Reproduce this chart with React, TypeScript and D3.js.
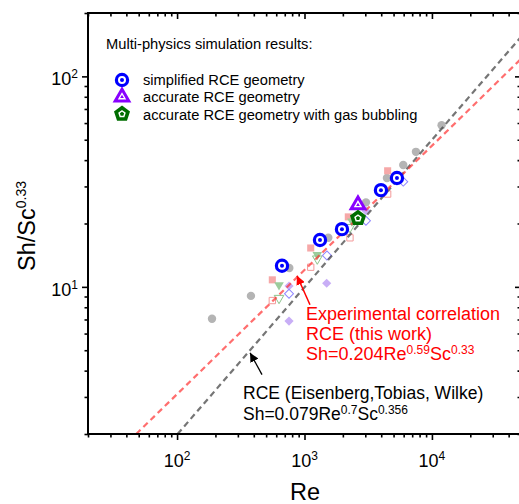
import React, { useEffect, useRef } from "react";
import * as d3 from "d3";

const W = 519;
const H = 504;
const FONT = "Arial, 'Liberation Sans', sans-serif";

// axes
const reDomain = [20, 50000];
const shDomain = [2, 200];
const reMajor = [100, 1000, 10000];
const reExp = ["2", "3", "4"];
const shMajor = [10, 100];
const shExp = ["1", "2"];

// multi-physics simulation results (Re, Sh/Sc^0.33)
const simplified = [[666, 12.6], [1323, 16.7], [1968, 18.8], [3981, 28.8], [5315, 32.9]];
const accurate = [[2628, 24.8]];
const bubbling = [[2628, 21.2]];

// faded experimental points behind
const grayCircles = [[188, 7.05], [380, 9.06], [760, 12.3], [1537, 17.1], [3036, 25.2], [4436, 32.9], [5957, 37.9], [7490, 43.8], [11910, 58.6]];
const pinkSquares = [[559, 10.8], [1119, 15.3], [2206, 21.5], [4493, 35.6]];
const pinkOpenSquares = [[559, 8.61], [1119, 12.4], [2274, 17.1], [4493, 27.6]];
const greenTriangles = [[631, 10.2], [1260, 14.2], [2358, 20.5]];
const greenOpenTriangles = [[631, 8.84], [1260, 13.6], [2274, 19.2]];
const purpleDiamonds = [[756, 6.88], [756, 10.1], [1493, 10.4], [3036, 23.0]];
const purpleOpenDiamonds = [[756, 9.27], [1500, 14.1], [3036, 20.6], [5957, 31.6]];

// correlation lines (end points)
const thisWorkLine = [[47.8, 2], [50000, 121]];
const eisenbergLine = [[101, 2], [50000, 154]];

// annotation arrows (tail -> tip)
const redArrow = [[1104, 8.22], [873, 11.3]];
const blackArrow = [[464, 3.83], [374, 4.86]];

const x = d3.scaleLog().domain(reDomain).range([88, 521]);
const y = d3.scaleLog().domain(shDomain).range([434, 13]);

const pentagon = (r: number) =>
  "M" +
  d3
    .range(5)
    .map(i => {
      const a = -Math.PI / 2 + (i * 2 * Math.PI) / 5;
      return [r * Math.cos(a), r * Math.sin(a)].join(",");
    })
    .join("L") +
  "Z";

const sym = (type: any, size: number) => d3.symbol().type(type).size(size)() as string;

const SimplifiedMark = ({ cx, cy }: any) => (
  <g transform={`translate(${cx},${cy})`}>
    <circle r={5.6} fill="#fff" stroke="#0000ff" strokeWidth={3.2} />
    <circle r={2} fill="#0000ff" />
  </g>
);
const AccurateMark = ({ cx, cy }: any) => (
  <g transform={`translate(${cx},${cy + 1})`}>
    <path d={sym(d3.symbolTriangle, 80)} fill="#fff" stroke="#8800ff" strokeWidth={3} strokeLinejoin="miter" />
    <path d={sym(d3.symbolTriangle, 6)} fill="#8800ff" />
  </g>
);
const BubblingMark = ({ cx, cy }: any) => (
  <g transform={`translate(${cx},${cy})`}>
    <path d={pentagon(6.2)} fill="#fff" stroke="#006e00" strokeWidth={3.6} />
    <path d={pentagon(2.2)} fill="#006e00" />
  </g>
);

export default function App() {
  const axesRef = useRef<SVGGElement>(null);

  useEffect(() => {
    const g = d3.select(axesRef.current);
    g.selectAll("*").remove();
    const reMinor = x.ticks().filter(v => !reMajor.includes(v));
    const shMinor = y.ticks().filter(v => !shMajor.includes(v));

    const put = (axis: any, tr: string) => {
      const a = g.append("g").attr("transform", tr).call(axis);
      a.select(".domain").remove();
      a.selectAll("line").attr("stroke", "#000").attr("stroke-width", 1.6);
    };
    const blank = () => "";
    // bottom / left outward, top / right inward
    put(d3.axisBottom(x).tickValues(reMajor).tickSize(6).tickFormat(blank), "translate(0,434)");
    put(d3.axisBottom(x).tickValues(reMinor).tickSize(3.5).tickFormat(blank), "translate(0,434)");
    put(d3.axisTop(x).tickValues(reMajor).tickSize(-6).tickFormat(blank), "translate(0,13)");
    put(d3.axisTop(x).tickValues(reMinor).tickSize(-3.5).tickFormat(blank), "translate(0,13)");
    put(d3.axisLeft(y).tickValues(shMajor).tickSize(6).tickFormat(blank), "translate(88,0)");
    put(d3.axisLeft(y).tickValues(shMinor).tickSize(3.5).tickFormat(blank), "translate(88,0)");
    put(d3.axisRight(y).tickValues(shMajor).tickSize(-6).tickFormat(blank), "translate(521,0)");
    put(d3.axisRight(y).tickValues(shMinor).tickSize(-3.5).tickFormat(blank), "translate(521,0)");
  }, []);

  const line = d3
    .line<number[]>()
    .x(d => x(d[0]))
    .y(d => y(d[1]));

  return (
    <div style={{ position: "absolute", left: 0, top: 0 }}>
      <svg width={W} height={H} style={{ display: "block", fontFamily: FONT }}>
        <defs>
          <clipPath id="plot">
            <rect x={88} y={13} width={433} height={421} />
          </clipPath>
          <marker id="headRed" viewBox="0 0 10 10" refX={10} refY={5} markerWidth={9} markerHeight={9} markerUnits="userSpaceOnUse" orient="auto">
            <path d="M0,0L10,5L0,10Z" fill="#ff0000" />
          </marker>
          <marker id="headBlack" viewBox="0 0 10 10" refX={10} refY={5} markerWidth={9} markerHeight={9} markerUnits="userSpaceOnUse" orient="auto">
            <path d="M0,0L10,5L0,10Z" fill="#000" />
          </marker>
        </defs>

        <g clipPath="url(#plot)">
          {grayCircles.map((d, i) => (
            <circle key={"gc" + i} cx={x(d[0])} cy={y(d[1])} r={4.2} fill="#b4b4b4" />
          ))}
          {pinkSquares.map((d, i) => (
            <path key={"ps" + i} transform={`translate(${x(d[0])},${y(d[1])})`} d={sym(d3.symbolSquare, 50)} fill="#f6a8a8" />
          ))}
          {pinkOpenSquares.map((d, i) => (
            <path key={"pos" + i} transform={`translate(${x(d[0])},${y(d[1])})`} d={sym(d3.symbolSquare, 40)} fill="none" stroke="#f39a9a" strokeWidth={1} />
          ))}
          {greenTriangles.map((d, i) => (
            <path key={"gt" + i} transform={`translate(${x(d[0])},${y(d[1])}) rotate(180)`} d={sym(d3.symbolTriangle, 40)} fill="#9ccc9c" />
          ))}
          {greenOpenTriangles.map((d, i) => (
            <path key={"got" + i} transform={`translate(${x(d[0])},${y(d[1])}) rotate(180)`} d={sym(d3.symbolTriangle, 40)} fill="none" stroke="#8cc48c" strokeWidth={1} />
          ))}
          {purpleDiamonds.map((d, i) => (
            <path key={"pd" + i} transform={`translate(${x(d[0])},${y(d[1])}) rotate(45)`} d={sym(d3.symbolSquare, 42)} fill="#c8aef6" />
          ))}
          {purpleOpenDiamonds.map((d, i) => (
            <path key={"pod" + i} transform={`translate(${x(d[0])},${y(d[1])}) rotate(45)`} d={sym(d3.symbolSquare, 40)} fill="none" stroke="#8f86ff" strokeWidth={1} />
          ))}

          <path d={line(eisenbergLine) as string} fill="none" stroke="#3a3a3a" strokeOpacity={0.7} strokeWidth={2.2} strokeDasharray="6,4" />
          <path d={line(thisWorkLine) as string} fill="none" stroke="#ff3030" strokeOpacity={0.7} strokeWidth={2.2} strokeDasharray="6,4" />

          {simplified.map((d, i) => (
            <SimplifiedMark key={"s" + i} cx={x(d[0])} cy={y(d[1])} />
          ))}
          {accurate.map((d, i) => (
            <AccurateMark key={"a" + i} cx={x(d[0])} cy={y(d[1])} />
          ))}
          {bubbling.map((d, i) => (
            <BubblingMark key={"b" + i} cx={x(d[0])} cy={y(d[1])} />
          ))}
        </g>

        <line x1={x(redArrow[0][0])} y1={y(redArrow[0][1])} x2={x(redArrow[1][0])} y2={y(redArrow[1][1])} stroke="#ff0000" strokeWidth={1.5} markerEnd="url(#headRed)" />
        <line x1={x(blackArrow[0][0])} y1={y(blackArrow[0][1])} x2={x(blackArrow[1][0])} y2={y(blackArrow[1][1])} stroke="#000" strokeWidth={1.3} markerEnd="url(#headBlack)" />

        <g ref={axesRef} />
        <rect x={88} y={13} width={433} height={421} fill="none" stroke="#000" strokeWidth={2} />

        {reMajor.map((v, i) => (
          <text key={"xl" + i} x={x(v)} y={467} textAnchor="middle" fontSize={18}>
            10<tspan dy={-7} fontSize={12}>{reExp[i]}</tspan>
          </text>
        ))}
        {shMajor.map((v, i) => (
          <text key={"yl" + i} x={78} y={y(v) + 9} textAnchor="end" fontSize={18}>
            10<tspan dy={-7} fontSize={12}>{shExp[i]}</tspan>
          </text>
        ))}

        <text x={305} y={500} textAnchor="middle" fontSize={23.5}>Re</text>
        <text transform="translate(35,226) rotate(-90)" textAnchor="middle" fontSize={23.5}>
          Sh/Sc<tspan dy={-9} fontSize={14}>0.33</tspan>
        </text>

        <text x={106} y={49} fontSize={14.7}>Multi-physics simulation results:</text>
        <SimplifiedMark cx={122} cy={80} />
        <AccurateMark cx={122} cy={96} />
        <BubblingMark cx={122} cy={114} />
        <text x={143} y={85} fontSize={14.7}>simplified RCE geometry</text>
        <text x={143} y={102} fontSize={14.7}>accurate RCE geometry</text>
        <text x={143} y={119.5} fontSize={14.7}>accurate RCE geometry with gas bubbling</text>

        <g fill="#ff0000" fontSize={18}>
          <text x={306} y={319.5}>Experimental correlation</text>
          <text x={306} y={340}>RCE (this work)</text>
          <text x={306} y={360}>
            Sh=0.204Re<tspan dy={-6} fontSize={12}>0.59</tspan>
            <tspan dy={6}>Sc</tspan>
            <tspan dy={-6} fontSize={12}>0.33</tspan>
          </text>
        </g>
        <g fill="#000" fontSize={17.5}>
          <text x={243} y={399}>RCE (Eisenberg,Tobias, Wilke)</text>
          <text x={243} y={420}>
            Sh=0.079Re<tspan dy={-6} fontSize={12}>0.7</tspan>
            <tspan dy={6}>Sc</tspan>
            <tspan dy={-6} fontSize={12}>0.356</tspan>
          </text>
        </g>
      </svg>
    </div>
  );
}
